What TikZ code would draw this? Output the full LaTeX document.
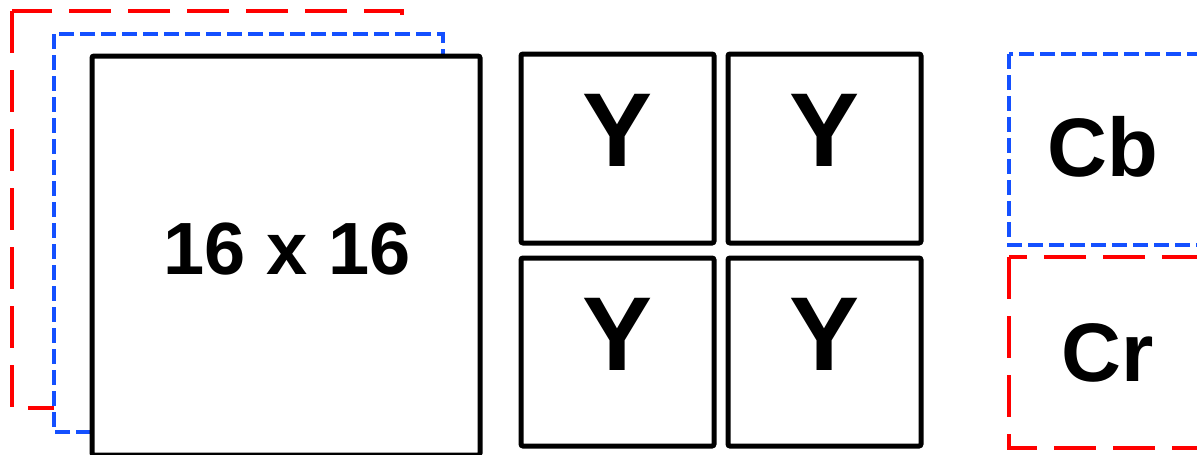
\documentclass[tikz,border=0pt]{standalone}
\usepackage{fontspec}
\setmainfont{Liberation Sans}
\begin{document}
\begin{tikzpicture}[x=1pt,y=-1pt,
  redbox/.style={draw={rgb,255:red,255;green,0;blue,0}, line width=4pt, dash pattern=on 42pt off 17pt, fill=white},
  bluebox/.style={draw={rgb,255:red,20;green,80;blue,255}, line width=4pt, dash pattern=on 15pt off 6pt, fill=white},
  blkbox/.style={draw=black, line width=5pt, rounded corners=2pt, fill=white},
  bigtxt/.style={anchor=base, inner sep=0pt, font=\bfseries\fontsize{74}{74}\selectfont},
  ytxt/.style={anchor=base, inner sep=0pt, font=\bfseries\fontsize{105}{105}\selectfont},
  ctxt/.style={anchor=base, inner sep=0pt, font=\bfseries\fontsize{83}{83}\selectfont}]
\useasboundingbox (0,0) rectangle (1197,455);
\clip (0,0) rectangle (1197,455);
% stacked planes
\draw[redbox] (12,11) rectangle (402,408);
\draw[bluebox] (54,34) rectangle (443,432);
\draw[blkbox] (92,56) rectangle (480,455);
\node[bigtxt] (mb) at (287,274) {16 x 16};
% Y blocks
\draw[blkbox] (521,54) rectangle (714,243);
\draw[blkbox] (728,54) rectangle (921,243);
\draw[blkbox] (521,258) rectangle (714,446);
\draw[blkbox] (728,258) rectangle (921,446);
\node[ytxt] (y1) at (617.5,166) {Y};
\node[ytxt] (y2) at (824.5,166) {Y};
\node[ytxt] (y3) at (617.5,370) {Y};
\node[ytxt] (y4) at (824.5,370) {Y};
% chroma
\draw[bluebox] (1009,54) rectangle (1240,245);
\draw[redbox] (1009,257) rectangle (1240,448);
\node[ctxt] (cb) at (1103,176) {Cb};
\node[ctxt] (cr) at (1107.5,381) {Cr};
\end{tikzpicture}
\end{document}
